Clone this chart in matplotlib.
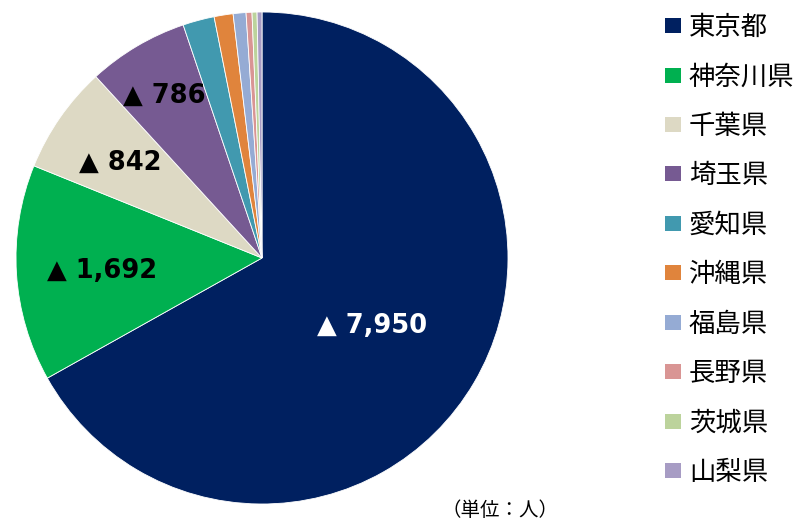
import matplotlib
matplotlib.use("Agg")
import matplotlib.pyplot as plt
import numpy as np

plt.rcParams['font.family'] = ['Noto Sans CJK JP', 'DejaVu Sans']

prefectures = ['東京都', '神奈川県', '千葉県', '埼玉県', '愛知県', '沖縄県', '福島県', '長野県', '茨城県', '山梨県']
values = [7950, 1692, 842, 786, 246, 148, 100, 46, 39, 38]
label_texts = ['▲ 7,950', '▲ 1,692', '▲ 842', '▲ 786']
colors = ['#002060', '#00b050', '#ddd9c4', '#765a92', '#4199af', '#e0843c',
          '#95abd4', '#d99594', '#bcd39c', '#a79cc4']
label_colors = ['white', 'black', 'black', 'black']
label_radii = [0.52, 0.65, 0.70, 0.78]
unit_text = '（単位：人）'

fig = plt.figure(figsize=(7.96, 5.20), dpi=100)
ax = fig.add_axes([16/796, 16/520, 492/796, 492/520])
wedges, _ = ax.pie(values, colors=colors, startangle=90, counterclock=False,
                   radius=1.0, wedgeprops=dict(edgecolor='white', linewidth=0.6))
ax.set_xlim(-1, 1)
ax.set_ylim(-1, 1)
ax.set_aspect('equal')

for w, txt, c, r in zip(wedges, label_texts, label_colors, label_radii):
    mid = np.deg2rad((w.theta1 + w.theta2) / 2)
    ax.text(r * np.cos(mid), r * np.sin(mid) - 0.012, txt, ha='center', va='center',
            fontsize=18.5, fontweight='bold', color=c, family=['DejaVu Sans'])

leg = fig.legend(wedges, prefectures, loc='upper left',
                 bbox_to_anchor=(665/796, 1 - 14/520), frameon=False,
                 fontsize=19, handlelength=0.6, handleheight=0.5,
                 handletextpad=0.3, labelspacing=0.85, borderpad=0, borderaxespad=0)
for h in leg.legend_handles:
    h.set_edgecolor('none')

fig.text(500/796, 1 - 511/520, unit_text, ha='center', va='center', fontsize=14)

fig.savefig('out.png', dpi=100)
